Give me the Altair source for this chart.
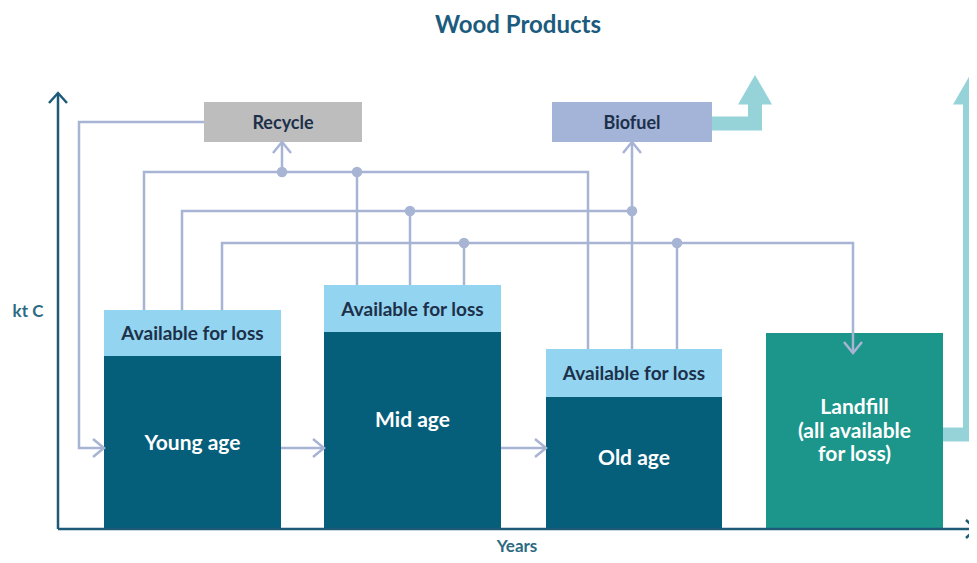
import altair as alt
import pandas as pd

# ---------------- data ----------------
categories = ["Young age", "Mid age", "Old age", "Landfill"]
bar_x0 = [104, 324, 546, 766]          # years (diagram units)
bar_x1 = [281, 501, 722, 943]
bar_base = [529, 529, 529, 529]        # kt C baseline
stock_top = [356, 332, 397, 333]       # top of stock pool
avail_top = [310, 285, 349, 333]       # top of "available for loss"
stock_label_y = [444, 421, 459, 408]

boxes = ["Recycle", "Biofuel"]
box_x0 = [204, 552]
box_x1 = [362, 712]
box_y0 = [102, 102]
box_y1 = [142, 142]

# flow connectors (polylines)
flows = {
    "recycle_loop": [(204, 122), (79, 122), (79, 448), (103, 448)],
    "young_mid": [(281, 448), (323, 448)],
    "mid_old": [(501, 448), (545, 448)],
    "to_recycle": [(144, 310), (144, 172), (588, 172), (588, 349)],
    "to_biofuel": [(182, 310), (182, 211), (632, 211)],
    "to_landfill": [(222, 310), (222, 243), (853, 243), (853, 352)],
    "recycle_up": [(282, 172), (282, 143)],
    "mid_r": [(357, 285), (357, 172)],
    "mid_b": [(410, 285), (410, 211)],
    "mid_l": [(464, 285), (464, 243)],
    "old_b": [(632, 349), (632, 143)],
    "old_l": [(677, 349), (677, 243)],
}
arrow_tips = [((104, 448), (1, 0)), ((324, 448), (1, 0)), ((546, 448), (1, 0)),
              ((282, 142), (0, -1)), ((632, 142), (0, -1)), ((853, 353), (0, 1))]
junctions_x = [282, 357, 410, 632, 464, 677]
junctions_y = [172, 172, 211, 211, 243, 243]

axes_lines = {
    "yaxis": [(58, 529), (58, 94)],
    "xaxis": [(58, 529), (976, 529)],
}
axis_tips = [((58, 93), (0, -1)), ((976, 529), (1, 0))]

emission = {
    "biofuel_out": [(712, 123.5), (755, 123.5), (755, 103)],
    "landfill_out": [(943, 434.5), (970, 434.5), (970, 103)],
}
emission_head_x = [755, 970]
emission_head_y = [89.7, 89.7]

# ---------------- tables ----------------
def poly_df(d):
    rows = []
    for k, pts in d.items():
        for i, (x, y) in enumerate(pts):
            rows.append({"id": k, "o": i, "x": x, "y": y})
    return pd.DataFrame(rows)

def chevrons(tips, L=11, w=9, prefix="c"):
    out = {}
    for j, ((tx, ty), (dx, dy)) in enumerate(tips):
        px, py = -dy, dx
        out[f"{prefix}{j}"] = [(tx - L * dx + w * px, ty - L * dy + w * py), (tx, ty),
                               (tx - L * dx - w * px, ty - L * dy - w * py)]
    return out

thin_df = poly_df({**flows, **chevrons(arrow_tips)})
axis_df = poly_df({**axes_lines, **chevrons(axis_tips, L=10, w=9, prefix="a")})
emis_df = poly_df(emission)

stock_df = pd.DataFrame({"cat": categories, "x": bar_x0, "x2": bar_x1,
                         "y": stock_top, "y2": bar_base,
                         "col": ["#055e7a", "#055e7a", "#055e7a", "#1c958b"]})
avail_df = pd.DataFrame({"cat": categories[:3], "x": bar_x0[:3], "x2": bar_x1[:3],
                         "y": avail_top[:3], "y2": stock_top[:3]})
avail_lab = pd.DataFrame({"x": [(a + b) / 2 for a, b in zip(bar_x0[:3], bar_x1[:3])],
                          "y": [(a + b) / 2 + 1 for a, b in zip(avail_top[:3], stock_top[:3])],
                          "t": ["Available for loss"] * 3})
stock_lab = pd.DataFrame({"x": [(a + b) / 2 for a, b in zip(bar_x0, bar_x1)],
                          "y": stock_label_y,
                          "t": [categories[0], categories[1], categories[2],
                                ["Landfill", "(all available", "for loss)"]]})
box_df = pd.DataFrame({"b": boxes, "x": box_x0, "x2": box_x1, "y": box_y0, "y2": box_y1,
                       "col": ["#bdbdbd", "#a4b4d8"]})
box_lab = pd.DataFrame({"x": [(a + b) / 2 for a, b in zip(box_x0, box_x1)],
                        "y": [(a + b) / 2 + 2 for a, b in zip(box_y0, box_y1)], "t": boxes})
dots_df = pd.DataFrame({"x": junctions_x, "y": junctions_y})
head_df = pd.DataFrame({"x": emission_head_x, "y": emission_head_y})

# ---------------- encodings ----------------
X = alt.X("x:Q", scale=alt.Scale(domain=[8, 969], nice=False, zero=False), axis=None)
Y = alt.Y("y:Q", scale=alt.Scale(domain=[8, 555], nice=False, zero=False, reverse=True), axis=None)
FONT = "Lato"

stock = alt.Chart(stock_df).mark_rect().encode(x=X, x2="x2:Q", y=Y, y2="y2:Q",
                                               color=alt.Color("col:N", scale=None))
avail = alt.Chart(avail_df).mark_rect(color="#93d4f0").encode(x=X, x2="x2:Q", y=Y, y2="y2:Q")
box = alt.Chart(box_df).mark_rect().encode(x=X, x2="x2:Q", y=Y, y2="y2:Q",
                                           color=alt.Color("col:N", scale=None))

emis = alt.Chart(emis_df).mark_line(color="#95d3d9", strokeWidth=14, strokeJoin="miter",
                                    strokeCap="butt").encode(
    x=X, y=Y, detail="id:N", order="o:Q")
heads = alt.Chart(head_df).mark_point(shape="triangle-up", size=1156, filled=True,
                                      color="#95d3d9", opacity=1).encode(x=X, y=Y)

thin = alt.Chart(thin_df).mark_line(color="#a7b4d4", strokeWidth=2.5, strokeJoin="miter").encode(
    x=X, y=Y, detail="id:N", order="o:Q")
dots = alt.Chart(dots_df).mark_circle(color="#a7b4d4", size=110, opacity=1).encode(x=X, y=Y)
axes = alt.Chart(axis_df).mark_line(color="#1d5a78", strokeWidth=2.5, strokeJoin="miter").encode(
    x=X, y=Y, detail="id:N", order="o:Q")

avail_text = alt.Chart(avail_lab).mark_text(font=FONT, fontSize=19, fontWeight="bold",
                                            color="#1c304a").encode(x=X, y=Y, text="t:N")
stock_text = alt.Chart(stock_lab).mark_text(font=FONT, fontSize=21, fontWeight="bold",
                                            color="white", lineHeight=23.5).encode(x=X, y=Y, text="t")
box_text = alt.Chart(box_lab).mark_text(font=FONT, fontSize=18, fontWeight="bold",
                                        color="#1c304a").encode(x=X, y=Y, text="t:N")

titles = pd.DataFrame({"x": [518], "y": [26], "t": ["Wood Products"]})
ylab = pd.DataFrame({"x": [28], "y": [312], "t": ["kt C"]})
xlab = pd.DataFrame({"x": [517], "y": [547], "t": ["Years"]})
title_t = alt.Chart(titles).mark_text(font=FONT, fontSize=24, fontWeight="bold",
                                      color="#1b5b7e").encode(x=X, y=Y, text="t:N")
ylab_t = alt.Chart(ylab).mark_text(font=FONT, fontSize=17, fontWeight="bold",
                                   color="#2b6a80").encode(x=X, y=Y, text="t:N")
xlab_t = alt.Chart(xlab).mark_text(font=FONT, fontSize=17, fontWeight="bold",
                                   color="#2b6a80").encode(x=X, y=Y, text="t:N")

chart = alt.layer(
    emis, heads, stock, avail, box, thin, dots, axes,
    avail_text, stock_text, box_text, title_t, ylab_t, xlab_t
).properties(width=961, height=547, autosize="none", padding=0, background="white"
).configure_view(stroke=None)

chart.save("out.html", embed_options={"renderer": "svg", "actions": False})
